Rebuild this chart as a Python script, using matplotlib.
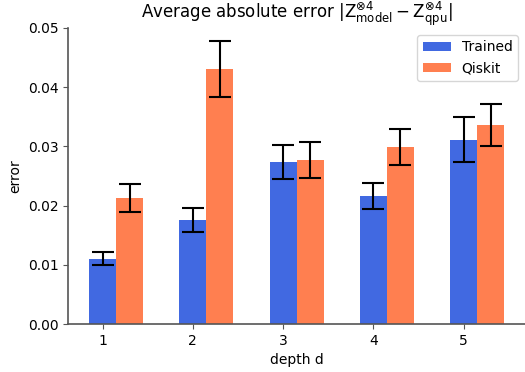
import matplotlib
matplotlib.use("Agg")
import matplotlib.pyplot as plt
import numpy as np

plt.rcParams["mathtext.default"] = "regular"

depths = [1, 2, 3, 4, 5]
trained = [0.0110, 0.0176, 0.0274, 0.0216, 0.0311]
trained_err = [0.0011, 0.0020, 0.0029, 0.0022, 0.0038]
qiskit = [0.0213, 0.0431, 0.0277, 0.0299, 0.0336]
qiskit_err = [0.0024, 0.0047, 0.0030, 0.0031, 0.0036]

fig = plt.figure(figsize=(5.25, 3.72), dpi=100)
ax = fig.add_axes([0.13, 0.129, 0.87, 0.796])
x = np.array(depths, dtype=float)
w = 0.3
ax.bar(x, trained, w, yerr=trained_err, color="royalblue", label="Trained",
       capsize=8, error_kw=dict(elinewidth=1.5, capthick=1.5, ecolor="black"))
ax.bar(x + w, qiskit, w, yerr=qiskit_err, color="coral", label="Qiskit",
       capsize=8, error_kw=dict(elinewidth=1.5, capthick=1.5, ecolor="black"))
ax.set_xticks(depths)
ax.set_xlabel("depth d")
ax.set_ylabel("error")
ax.set_ylim(0, 0.05)
ax.set_title(r"Average absolute error $|Z^{\otimes 4}_{model} - Z^{\otimes 4}_{qpu}|$")
for s in ["top", "right"]:
    ax.spines[s].set_visible(False)
for s in ["left", "bottom"]:
    ax.spines[s].set_color("#555555")
    ax.spines[s].set_linewidth(1.2)
ax.tick_params(colors="#555555", labelcolor="black")
ax.legend(loc="upper right")
fig.savefig("out.png", dpi=100)
